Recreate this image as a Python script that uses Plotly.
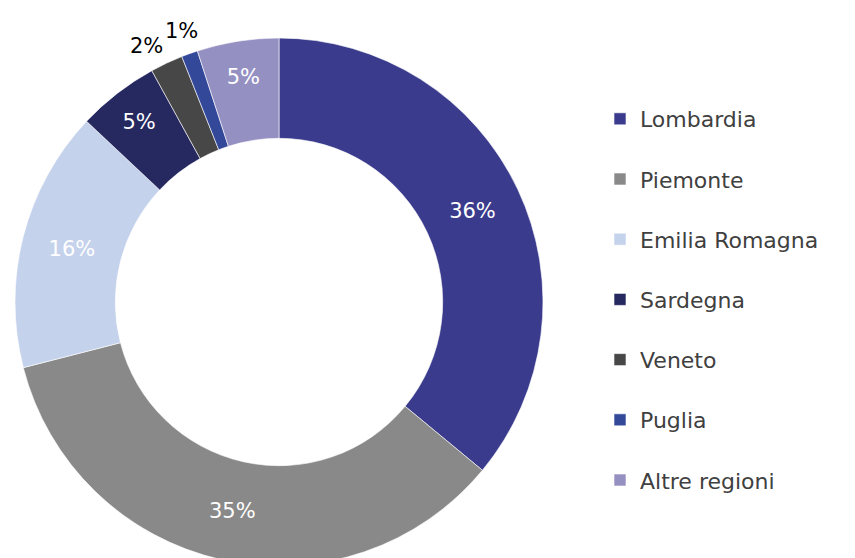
import math
import plotly.graph_objects as go

categories = ["Lombardia", "Piemonte", "Emilia Romagna", "Sardegna", "Veneto", "Puglia", "Altre regioni"]
values = [36, 35, 16, 5, 2, 1, 5]
colors = ["#3A3B8C", "#898989", "#C5D2EC", "#262860", "#474747", "#34489A", "#9590C2"]
outside = [False, False, False, False, True, True, False]
# anchoring of the outside labels (xanchor, yanchor, radius factor)
outside_style = {4: ("right", "bottom", 1.015), 5: ("center", "middle", 1.09)}

W, H = 855, 610
cx, cy, R = 279, 302, 264
FONT = "Century Gothic, DejaVu Sans, sans-serif"

legend_labels = [c + "<br> " for c in categories]
total = sum(values)
texts = ["" if o else f"{v / total:.0%}" for v, o in zip(values, outside)]

fig = go.Figure(go.Pie(
    labels=legend_labels,
    values=values,
    text=texts,
    sort=False,
    direction="clockwise",
    rotation=0,
    hole=0.62,
    marker=dict(colors=colors, line=dict(color="#FFFFFF", width=0.6)),
    textinfo="text",
    textposition="inside",
    insidetextorientation="horizontal",
    insidetextfont=dict(color="#FFFFFF", size=21, family=FONT),
    hoverinfo="label+percent",
    domain=dict(x=[(cx - R) / W, (cx + R) / W], y=[(H - cy - R) / H, (H - cy + R) / H]),
))

# outside labels for the thin slices, placed at the slice's mid-angle
cum = 0
for i, (v, o) in enumerate(zip(values, outside)):
    mid = (cum + v / 2) / total * 2 * math.pi
    cum += v
    if o:
        xa, ya, f = outside_style[i]
        r = R * f
        fig.add_annotation(
            x=(cx + r * math.sin(mid)) / W, y=(H - cy + r * math.cos(mid)) / H,
            xref="paper", yref="paper", xanchor=xa, yanchor=ya,
            text=f"{v / total:.0%}", showarrow=False,
            font=dict(size=21, color="#000000", family=FONT),
        )

fig.update_layout(
    width=W, height=H,
    margin=dict(l=0, r=0, t=0, b=0),
    paper_bgcolor="#FFFFFF",
    showlegend=True,
    legend=dict(
        x=600 / W, y=1 - 98 / H, xanchor="left", yanchor="top",
        font=dict(size=22, color="#404040", family=FONT),
        valign="top", itemwidth=30, traceorder="normal",
    ),
)

fig.write_html("out.html", config={"displayModeBar": False},
               post_script="document.body.style.margin='0';document.body.style.overflow='hidden';")
